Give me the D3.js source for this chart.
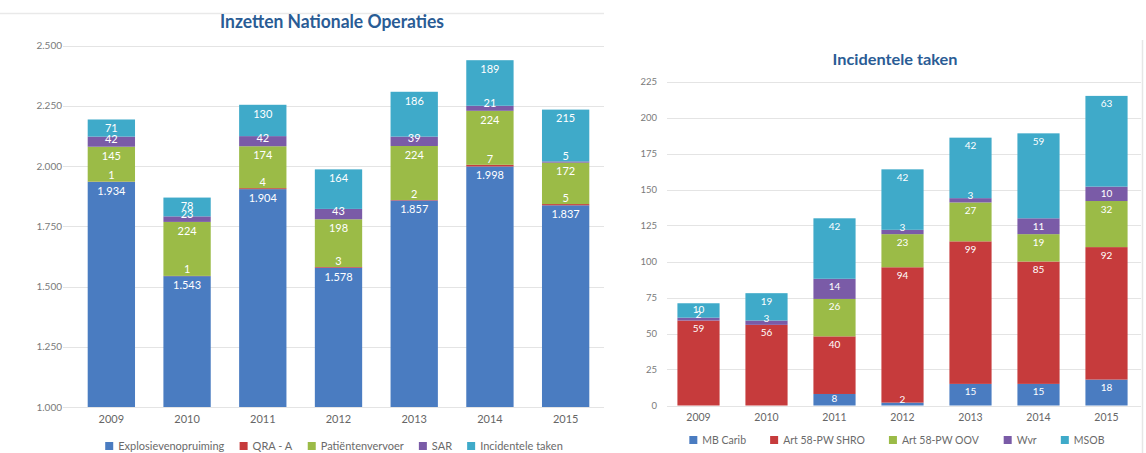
<!DOCTYPE html>
<html>
<head>
<meta charset="utf-8">
<script src="https://cdn.jsdelivr.net/npm/d3@7"></script>
<style>
  html, body { margin: 0; padding: 0; background: #fff; }
  svg { display: block; font-family: "Lato", "Open Sans", sans-serif; }
</style>
</head>
<body>
<svg id="chart" width="1146" height="453"></svg>
<script>
// ---- Inzetten Nationale Operaties ----
const years = ["2009", "2010", "2011", "2012", "2013", "2014", "2015"];
const natSeriesNames = ["Explosievenopruiming", "QRA - A", "Patiëntenvervoer", "SAR", "Incidentele taken"];
const explosievenopruiming = [1934, 1543, 1904, 1578, 1857, 1998, 1837];
const qraA = [1, 1, 4, 3, 2, 7, 5];
const patientenvervoer = [145, 224, 174, 198, 224, 224, 172];
const sar = [42, 23, 42, 43, 39, 21, 5];
const incidenteleTaken = [71, 78, 130, 164, 186, 189, 215];
const natTicks = [1000, 1250, 1500, 1750, 2000, 2250, 2500];

// ---- Incidentele taken ----
const incSeriesNames = ["MB Carib", "Art 58-PW SHRO", "Art 58-PW OOV", "Wvr", "MSOB"];
const mbCarib = [0, 0, 8, 2, 15, 15, 18];
const art58Shro = [59, 56, 40, 94, 99, 85, 92];
const art58Oov = [0, 0, 26, 23, 27, 19, 32];
const wvr = [2, 3, 14, 3, 3, 11, 10];
const msob = [10, 19, 42, 42, 42, 59, 63];
const incTicks = [0, 25, 50, 75, 100, 125, 150, 175, 200, 225];

const colors = ["#4a7cc1", "#c63b3c", "#9bbb47", "#7a5ba7", "#3faac9"];

const nl = d3.formatLocale({ decimal: ",", thousands: ".", grouping: [3], currency: ["€", ""] });
const fmt = nl.format(",d");

const svg = d3.select("#chart");

// panel decorations
svg.append("line").attr("x1", 0).attr("x2", 604).attr("y1", 13.5).attr("y2", 13.5)
  .attr("stroke", "#e9e9e9").attr("stroke-width", 1.5);
svg.append("line").attr("x1", 1142.5).attr("x2", 1142.5).attr("y1", 40).attr("y2", 453)
  .attr("stroke", "#e6e6e6").attr("stroke-width", 1.5);

function drawPanel(opt) {
  const g = svg.append("g");
  const seriesValues = opt.series;
  const rows = opt.categories.map((c, i) => {
    const r = { cat: c };
    opt.names.forEach((n, k) => { r[n] = seriesValues[k][i]; });
    return r;
  });
  const stacked = d3.stack().keys(opt.names)(rows);

  const x = d3.scaleBand().domain(opt.categories).range(opt.xRange).paddingInner(opt.pad).paddingOuter(opt.pad / 2);
  const y = d3.scaleLinear().domain(opt.domain).range(opt.yRange).clamp(true);

  // gridlines
  g.append("g").selectAll("line").data(opt.ticks).join("line")
    .attr("x1", opt.gridX[0]).attr("x2", opt.gridX[1])
    .attr("y1", d => Math.round(y(d)) + 0.5).attr("y2", d => Math.round(y(d)) + 0.5)
    .attr("stroke", "#e4e4e4").attr("stroke-width", 1);

  // y axis labels
  const yAxis = d3.axisLeft(y).tickValues(opt.ticks).tickFormat(fmt).tickSize(0).tickPadding(0);
  const ya = g.append("g").attr("transform", `translate(${opt.yLabelX},0)`).call(yAxis);
  ya.select(".domain").remove();
  ya.selectAll("text").attr("fill", "#7a7a7a").style("font-size", opt.tickSize + "px")
    .style("font-family", "Lato, sans-serif");

  // x axis labels
  const xAxis = d3.axisBottom(x).tickSize(0).tickPadding(0);
  const xa = g.append("g").attr("transform", `translate(0,${opt.xLabelY})`).call(xAxis);
  xa.select(".domain").remove();
  xa.selectAll("text").attr("fill", "#666").attr("dy", "0.35em").style("font-size", opt.tickSize + 1 + "px")
    .style("font-family", "Lato, sans-serif");

  // bars
  stacked.forEach((layer, k) => {
    g.append("g").attr("fill", colors[k]).selectAll("rect").data(layer).join("rect")
      .attr("x", d => x(d.data.cat))
      .attr("width", x.bandwidth())
      .attr("y", d => y(d[1]))
      .attr("height", d => Math.max(0, y(d[0]) - y(d[1])));
  });

  // value labels, placed at the inside end of each segment
  const d0 = opt.labelInset;
  stacked.forEach((layer, k) => {
    g.append("g").selectAll("text").data(layer.filter(d => d[1] - d[0] > 0)).join("text")
      .attr("x", d => x(d.data.cat) + x.bandwidth() / 2)
      .attr("y", d => {
        const top = y(d[1]);
        const h = y(d[0]) - top;
        return top + Math.min(d0, h / 2) - 0.75 * Math.max(0, d0 - h / 2);
      })
      .attr("dy", "0.35em")
      .attr("text-anchor", "middle")
      .attr("fill", "#fff")
      .style("font-size", opt.labelSize + "px")
      .text(d => fmt(d[1] - d[0]));
  });

  // title
  g.append("text").attr("x", opt.titleX).attr("y", opt.titleY)
    .attr("text-anchor", "middle").attr("dy", "0.35em")
    .attr("fill", "#2a5c95").style("font-weight", "bold").style("font-size", opt.titleSize + "px")
    .attr("textLength", opt.titleWidth).attr("lengthAdjust", "spacingAndGlyphs")
    .text(opt.title);

  // legend
  const lg = g.append("g").attr("transform", `translate(0,${opt.legendY})`);
  const items = lg.selectAll("g").data(opt.names).join("g");
  items.append("rect").attr("width", opt.swatch).attr("height", opt.swatch)
    .attr("y", -opt.swatch / 2).attr("fill", (d, i) => colors[i]);
  items.append("text").attr("x", opt.swatch + 5).attr("dy", "0.35em")
    .attr("fill", "#6a6a6a").style("font-size", opt.legendSize + "px").text(d => d);
  let cx = 0;
  const widths = [];
  items.each(function () { widths.push(this.getBBox().width); });
  const total = d3.sum(widths) + opt.legendGap * (widths.length - 1);
  cx = opt.legendCenter - total / 2;
  items.attr("transform", (d, i) => {
    const t = `translate(${cx},0)`;
    cx += widths[i] + opt.legendGap;
    return t;
  });
}

drawPanel({
  categories: years,
  names: natSeriesNames,
  series: [explosievenopruiming, qraA, patientenvervoer, sar, incidenteleTaken],
  domain: [1000, 2500],
  ticks: natTicks,
  xRange: [73.5, 603.5],
  yRange: [407, 45.5],
  pad: 0.375,
  gridX: [63, 604],
  yLabelX: 62,
  xLabelY: 419.5,
  tickSize: 10,
  labelSize: 11,
  labelInset: 9,
  title: "Inzetten Nationale Operaties",
  titleX: 332, titleY: 21, titleSize: 19, titleWidth: 224,
  legendY: 446, legendCenter: 334, legendGap: 15, legendSize: 11, swatch: 8
});

drawPanel({
  categories: years,
  names: incSeriesNames,
  series: [mbCarib, art58Shro, art58Oov, wvr, msob],
  domain: [0, 225],
  ticks: incTicks,
  xRange: [664.5, 1140.5],
  yRange: [405.5, 81.5],
  pad: 0.38,
  gridX: [667, 1141],
  yLabelX: 657,
  xLabelY: 417,
  tickSize: 9.5,
  labelSize: 10,
  labelInset: 8,
  title: "Incidentele taken",
  titleX: 895, titleY: 59, titleSize: 16, titleWidth: 125,
  legendY: 440, legendCenter: 897, legendGap: 24, legendSize: 10.5, swatch: 8
});
</script>
</body>
</html>
